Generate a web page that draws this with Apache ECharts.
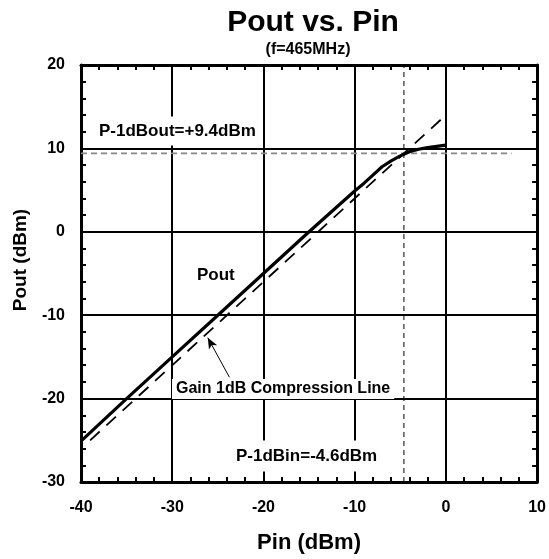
<!DOCTYPE html>
<html>
<head>
<meta charset="utf-8">
<script src="https://cdn.jsdelivr.net/npm/echarts@6/dist/echarts.min.js"></script>
<style>html,body{margin:0;padding:0;background:#fff}#c{width:549px;height:559px}</style>
</head>
<body>
<div id="c"></div>
<script>
// Measured Pout vs Pin (dBm)
const pinValues  = [-40, -35, -30, -25, -20, -15, -10, -9, -8, -7, -6, -5, -4, -3, -2, -1, 0];
const poutValues = [-25.1, -20, -15, -10, -5, 0, 4.9, 5.8, 6.8, 7.8, 8.5, 9.1, 9.6, 9.9, 10.1, 10.25, 10.4];
// Gain 1dB compression line (ideal gain - 1 dB)
const gainLineX = [-39, -0.3];
const gainLineY = [-25, 13.7];
// P-1dB points
const p1dBin = -4.6;
const p1dBout = 9.4;
const refLineXEnd = 7.2;
// Axis ranges
const xRange = [-40, 10];
const yRange = [-30, 20];
const tickStep = 10;
// Arrow annotation (tail -> head) in data units
const arrowTail = [-23.73, -17.44];
const arrowHead = [-26.1, -12.7];

const FONT = '"Liberation Sans", Arial, sans-serif';
const chart = echarts.init(document.getElementById('c'), null, {renderer: 'canvas'});

function axisBase(extra) {
  return Object.assign({
    type: 'value',
    interval: tickStep,
    axisLine: {show: true, onZero: false, lineStyle: {color: '#000', width: 3}},
    axisTick: {show: true, inside: true, length: 5, lineStyle: {color: '#000', width: 2}},
    minorTick: {show: true, splitNumber: 5, length: 5, lineStyle: {color: '#000', width: 2}},
    splitLine: {show: false},
    axisLabel: {show: false}
  }, extra);
}

const option = {
  animation: false,
  backgroundColor: '#fff',
  grid: {left: 81, right: 10, top: 65, bottom: 76, containLabel: false},
  xAxis: [
    axisBase({
      min: xRange[0], max: xRange[1], position: 'bottom',
      splitLine: {show: true, lineStyle: {color: '#000', width: 2}},
      axisLabel: {show: true, margin: 18, color: '#000', fontSize: 16, fontWeight: 'bold', fontFamily: FONT},
      name: 'Pin (dBm)', nameLocation: 'middle', nameGap: 50,
      nameTextStyle: {color: '#000', fontSize: 22, fontWeight: 'bold', fontFamily: FONT}
    }),
    axisBase({min: xRange[0], max: xRange[1], position: 'top'})
  ],
  yAxis: [
    axisBase({
      min: yRange[0], max: yRange[1], position: 'left',
      splitLine: {show: true, lineStyle: {color: '#000', width: 2}},
      axisLabel: {show: true, margin: 16, color: '#000', fontSize: 16, fontWeight: 'bold', fontFamily: FONT}
    }),
    axisBase({min: yRange[0], max: yRange[1], position: 'right'})
  ],
  series: [
    {
      name: 'Pout', type: 'line', xAxisIndex: 0, yAxisIndex: 0,
      data: pinValues.map((x, i) => [x, poutValues[i]]),
      showSymbol: false, symbol: 'none', smooth: false, z: 5,
      lineStyle: {color: '#000', width: 3.2}
    },
    {
      name: 'Gain 1dB Compression Line', type: 'line',
      data: gainLineX.map((x, i) => [x, gainLineY[i]]),
      symbol: 'none', z: 4,
      lineStyle: {color: '#000', width: 1.8, type: [13, 9]},
      markLine: {
        silent: true, symbol: ['none', 'arrow'], symbolSize: [7, 11],
        label: {show: false},
        lineStyle: {color: '#000', width: 1, type: 'solid'},
        data: [[{coord: arrowTail}, {coord: arrowHead}]]
      }
    },
    {
      name: 'P-1dBout ref', type: 'line',
      data: [[xRange[0], p1dBout], [refLineXEnd, p1dBout]],
      symbol: 'none', z: 3,
      lineStyle: {color: '#888', width: 1.6, type: [6, 4]}
    },
    {
      name: 'P-1dBin ref', type: 'line',
      data: [[p1dBin, yRange[0]], [p1dBin, yRange[1]]],
      symbol: 'none', z: 3,
      lineStyle: {color: '#000', width: 1, type: [5, 4]}
    }
  ],
  graphic: [
    {type: 'text', z: 100, style: {text: 'Pout vs. Pin', x: 313, y: 23, align: 'center', verticalAlign: 'middle', textAlign: 'center', textVerticalAlign: 'middle', fill: '#000', font: 'bold 30px ' + FONT}},
    {type: 'text', z: 100, style: {text: '(f=465MHz)', x: 308, y: 50, align: 'center', verticalAlign: 'middle', textAlign: 'center', textVerticalAlign: 'middle', fill: '#000', font: 'bold 16px ' + FONT}},
    {type: 'text', z: 100, rotation: Math.PI / 2, x: 21, y: 260, style: {text: 'Pout (dBm)', x: 0, y: 0, align: 'center', verticalAlign: 'middle', textAlign: 'center', textVerticalAlign: 'middle', fill: '#000', font: 'bold 19px ' + FONT}},
    {type: 'text', z: 100, style: {text: 'P-1dBout=+9.4dBm', x: 95, y: 131, align: 'left', verticalAlign: 'middle', textAlign: 'left', textVerticalAlign: 'middle', fill: '#000', font: 'bold 17px ' + FONT, backgroundColor: '#fff', padding: [6, 4]}},
    {type: 'text', z: 100, style: {text: 'Pout', x: 197, y: 275, align: 'left', verticalAlign: 'middle', textAlign: 'left', textVerticalAlign: 'middle', fill: '#000', font: 'bold 17px ' + FONT}},
    {type: 'text', z: 100, style: {text: 'Gain 1dB Compression Line', x: 172, y: 389, align: 'left', verticalAlign: 'middle', textAlign: 'left', textVerticalAlign: 'middle', fill: '#000', font: 'bold 16px ' + FONT, backgroundColor: '#fff', padding: [2, 4]}},
    {type: 'text', z: 100, style: {text: 'P-1dBin=-4.6dBm', x: 232, y: 456, align: 'left', verticalAlign: 'middle', textAlign: 'left', textVerticalAlign: 'middle', fill: '#000', font: 'bold 17px ' + FONT, backgroundColor: '#fff', padding: [7, 4]}}
  ]
};
chart.setOption(option);
</script>
</body>
</html>
